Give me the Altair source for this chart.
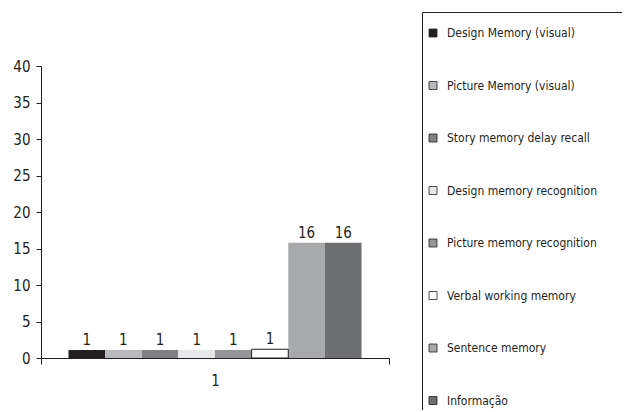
import altair as alt
import pandas as pd

series = [
    "Design Memory (visual)",
    "Picture Memory (visual)",
    "Story memory delay recall",
    "Design memory recognition",
    "Picture memory recognition",
    "Verbal working memory",
    "Sentence memory",
    "Informação",
]
values = [1.1, 1.1, 1.1, 1.1, 1.1, 1.2, 15.8, 15.8]
labels = ["1", "1", "1", "1", "1", "1", "16", "16"]
groups = ["1"] * 8
fills = ["#231f20", "#b8b9bc", "#808184", "#e6e7e8", "#939598", "#ffffff", "#a7a9ac", "#6d6e71"]
outlined = ["Verbal working memory"]
y_ticks = [0, 5, 10, 15, 20, 25, 30, 35, 40]

df = pd.DataFrame({"group": groups, "series": series, "value": values, "label": labels})

FONT = "Liberation Sans Narrow, DejaVu Sans Condensed, sans-serif"
INK = "#231f20"

base = alt.Chart(df).encode(
    x=alt.X(
        "group:N",
        title=None,
        scale=alt.Scale(paddingInner=0, paddingOuter=0),
        axis=alt.Axis(
            labelAngle=0, tickBand="extent", tickSize=6, labelPadding=9,
            labelFontSize=15, labelFont=FONT, labelColor=INK,
            domainColor=INK, tickColor=INK, grid=False,
        ),
    ),
    xOffset=alt.XOffset("series:N", sort=series,
                        scale=alt.Scale(paddingOuter=0.75, paddingInner=0)),
    y=alt.Y(
        "value:Q",
        title=None,
        scale=alt.Scale(domain=[0, 40]),
        axis=alt.Axis(
            values=y_ticks, tickSize=5, labelPadding=6, grid=False,
            labelFontSize=15, labelFont=FONT, labelColor=INK,
            domainColor=INK, tickColor=INK,
        ),
    ),
)

bars = base.mark_bar().encode(
    color=alt.Color(
        "series:N",
        sort=series,
        scale=alt.Scale(domain=series, range=fills),
        legend=alt.Legend(
            orient="none", legendX=381, legendY=-54,
            direction="vertical",
            title="\u2800" * 70, titleFont="DejaVu Sans", titleFontSize=8,
            titleLimit=194, titlePadding=2, titleColor="#ffffff",
            strokeColor=INK, padding=5,
            symbolType="square", symbolSize=64,
            symbolStrokeColor=INK, symbolStrokeWidth=0.8,
            labelFont=FONT, labelFontSize=12, labelColor=INK,
            labelOffset=8, labelLimit=300, rowPadding=40.5,
        ),
    ),
)

outline = base.mark_bar(filled=False, stroke=INK, strokeWidth=1).transform_filter(
    alt.FieldOneOfPredicate(field="series", oneOf=outlined)
)

text = base.mark_text(baseline="bottom", dy=-2, fontSize=15, font=FONT, color=INK).encode(
    text="label:N"
)

chart = (
    alt.layer(bars, outline, text)
    .properties(
        width=348,
        height=292,
        padding={"left": 33, "top": 58, "right": 233, "bottom": 52},
        autosize=alt.AutoSizeParams(type="none"),
        background="white",
    )
    .configure_view(stroke=None)
)

chart.save("out.html", embed_options={"renderer": "svg", "actions": False})
